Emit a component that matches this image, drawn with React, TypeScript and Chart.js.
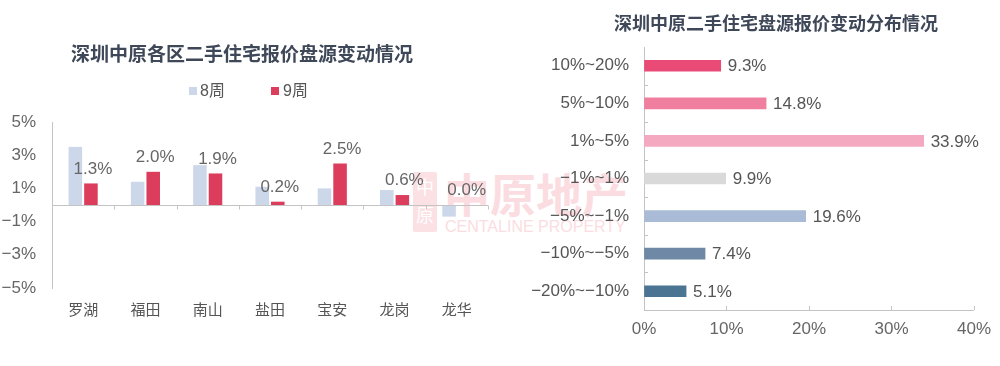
import React, { useEffect, useRef } from "react";
import { Chart, registerables } from "chart.js";

Chart.register(...registerables);

// ---- Data ----
const districts = ["罗湖", "福田", "南山", "盐田", "宝安", "龙岗", "龙华"];
const week8 = [3.5, 1.4, 2.4, 1.1, 1.0, 0.9, -0.7];
const week9 = [1.3, 2.0, 1.9, 0.2, 2.5, 0.6, 0.0];
const seriesNames = ["8周", "9周"];

const ranges = ["10%~20%", "5%~10%", "1%~5%", "−1%~1%", "−5%~−1%", "−10%~−5%", "−20%~−10%"];
const shares = [9.3, 14.8, 33.9, 9.9, 19.6, 7.4, 5.1];

const leftTitle = "深圳中原各区二手住宅报价盘源变动情况";
const rightTitle = "深圳中原二手住宅盘源报价变动分布情况";

// ---- Styles ----
const FONT = '"Liberation Sans", "Noto Sans CJK SC", sans-serif';
const CJK = '"Noto Sans CJK SC", "Liberation Sans", sans-serif';
const color8 = "#cdd7ea";
const color9 = "#dd3d5c";
const rangeColors = ["#e94b76", "#f07f9f", "#f5a9c0", "#d9d9d9", "#a9bbd6", "#6e88a6", "#4b7493"];
const axisColor = "#c4c4c4";

const fmtPct = (v: number) => (v < 0 ? "−" + Math.abs(v) : String(v)) + "%";

const leftPlugin = {
  id: "leftDecor",
  afterDatasetsDraw(chart: any) {
    const { ctx, chartArea, scales } = chart;
    const y0 = Math.round(scales.y.getPixelForValue(0)) + 0.5;
    ctx.save();
    ctx.strokeStyle = axisColor;
    ctx.lineWidth = 1;
    ctx.beginPath();
    ctx.moveTo(chartArea.left, y0);
    ctx.lineTo(chartArea.right, y0);
    const n = chart.data.labels.length;
    const w = (chartArea.right - chartArea.left) / n;
    for (let i = 1; i <= n; i++) {
      const x = Math.round(chartArea.left + i * w) + 0.5;
      ctx.moveTo(x, y0);
      ctx.lineTo(x, y0 + 4);
    }
    ctx.stroke();
    // value labels for 9周
    const meta = chart.getDatasetMeta(1);
    ctx.fillStyle = "#666";
    ctx.font = "17px " + FONT;
    ctx.textAlign = "center";
    ctx.textBaseline = "bottom";
    meta.data.forEach((bar: any, i: number) => {
      const v = chart.data.datasets[1].data[i];
      const top = Math.min(bar.y, bar.base);
      ctx.fillText(v.toFixed(1) + "%", bar.x + 2, top - 6);
    });
    ctx.restore();
  },
};

const rightPlugin = {
  id: "rightDecor",
  afterDatasetsDraw(chart: any) {
    const { ctx, chartArea, scales } = chart;
    ctx.save();
    ctx.strokeStyle = axisColor;
    ctx.lineWidth = 1;
    ctx.beginPath();
    const n = chart.data.labels.length;
    const h = (chartArea.bottom - chartArea.top) / n;
    for (let i = 1; i < n; i++) {
      const y = Math.round(chartArea.top + i * h) + 0.5;
      ctx.moveTo(chartArea.left, y);
      ctx.lineTo(chartArea.left + 4, y);
    }
    scales.x.ticks.forEach((t: any) => {
      if (t.value === 0) return;
      const x = Math.round(scales.x.getPixelForValue(t.value)) + 0.5;
      ctx.moveTo(x, chartArea.bottom);
      ctx.lineTo(x, chartArea.bottom - 4);
    });
    ctx.stroke();
    const meta = chart.getDatasetMeta(0);
    ctx.fillStyle = "#555";
    ctx.font = "17px " + FONT;
    ctx.textAlign = "left";
    ctx.textBaseline = "middle";
    meta.data.forEach((bar: any, i: number) => {
      const v = chart.data.datasets[0].data[i];
      ctx.fillText(v.toFixed(1) + "%", bar.x + 7, bar.y + 1);
    });
    ctx.restore();
  },
};

export default function App() {
  const leftRef = useRef<HTMLCanvasElement>(null);
  const rightRef = useRef<HTMLCanvasElement>(null);

  useEffect(() => {
    const left = new Chart(leftRef.current as HTMLCanvasElement, {
      type: "bar",
      data: {
        labels: districts,
        datasets: [
          { label: seriesNames[0], data: week8, backgroundColor: color8, categoryPercentage: 0.5, barPercentage: 0.87 },
          { label: seriesNames[1], data: week9, backgroundColor: color9, categoryPercentage: 0.5, barPercentage: 0.87 },
        ],
      },
      options: {
        responsive: false,
        animation: false,
        layout: { padding: { top: 122, right: 12, left: 0, bottom: 0 } },
        plugins: { legend: { display: false }, title: { display: false }, tooltip: { enabled: false } },
        scales: {
          x: {
            grid: { display: false, drawTicks: false },
            border: { display: false },
            ticks: { font: { size: 15, family: CJK }, color: "#555", padding: 12, maxRotation: 0 },
            afterFit: (s: any) => { s.height = 78; },
          },
          y: {
            min: -5,
            max: 5,
            grid: { display: true, drawOnChartArea: false, drawTicks: false },
            border: { display: true, color: axisColor },
            ticks: { stepSize: 2, font: { size: 17, family: FONT }, color: "#666", padding: 16, callback: (v: any) => fmtPct(v) },
            afterFit: (s: any) => { s.width = 52; },
          },
        },
      },
      plugins: [leftPlugin],
    });

    const right = new Chart(rightRef.current as HTMLCanvasElement, {
      type: "bar",
      data: {
        labels: ranges,
        datasets: [{ label: "占比", data: shares, backgroundColor: rangeColors, barThickness: 11 }],
      },
      options: {
        indexAxis: "y",
        responsive: false,
        animation: false,
        layout: { padding: { top: 47, right: 24, left: 0, bottom: 0 } },
        plugins: { legend: { display: false }, title: { display: false }, tooltip: { enabled: false } },
        scales: {
          x: {
            min: 0,
            max: 40,
            grid: { display: true, drawOnChartArea: false, drawTicks: false },
            border: { display: true, color: axisColor },
            ticks: { stepSize: 10, font: { size: 17, family: FONT }, color: "#666", padding: 9, callback: (v: any) => v + "%" },
            afterFit: (s: any) => { s.height = 56; },
          },
          y: {
            grid: { display: true, drawOnChartArea: false, drawTicks: false },
            border: { display: true, color: axisColor },
            ticks: { font: { size: 17, family: FONT }, color: "#555", padding: 15 },
            afterFit: (s: any) => { s.width = 144; },
          },
        },
      },
      plugins: [rightPlugin],
    });

    return () => {
      left.destroy();
      right.destroy();
    };
  }, []);

  const abs = (x: number, y: number): React.CSSProperties => ({ position: "absolute", left: x, top: y });

  return (
    <div style={{ position: "absolute", left: 0, top: 0, width: 1000, height: 366, background: "#fff", overflow: "hidden" }}>
      {/* watermark */}
      <div style={{ ...abs(413, 172), width: 24, height: 60, background: "#fbe0e4", borderRadius: 2, color: "#fff", fontFamily: CJK, fontSize: 18, lineHeight: "28px", textAlign: "center" }}>
        中<br />原
      </div>
      <div style={{ ...abs(444, 164), fontFamily: CJK, fontWeight: 700, fontSize: 46, color: "#fbdde1", lineHeight: "56px", whiteSpace: "nowrap" }}>中原地产</div>
      <div style={{ ...abs(445, 218), fontFamily: FONT, fontSize: 16, color: "#fbdde1", lineHeight: "18px", whiteSpace: "nowrap" }}>CENTALINE PROPERTY</div>

      <canvas ref={leftRef} width={500} height={366} style={{ ...abs(0, 0), width: 500, height: 366 }} />
      <canvas ref={rightRef} width={500} height={366} style={{ ...abs(500, 0), width: 500, height: 366 }} />

      {/* titles */}
      <div style={{ position: "absolute", left: 42, top: 40, width: 400, textAlign: "center", fontFamily: CJK, fontWeight: 700, fontSize: 19, lineHeight: "26px", color: "#3f4858", whiteSpace: "nowrap" }}>{leftTitle}</div>
      <div style={{ position: "absolute", left: 576, top: 9, width: 400, textAlign: "center", fontFamily: CJK, fontWeight: 700, fontSize: 18, lineHeight: "26px", color: "#3f4858", whiteSpace: "nowrap" }}>{rightTitle}</div>

      {/* legend */}
      <div style={{ ...abs(189, 87), width: 8, height: 8, background: color8 }} />
      <div style={{ ...abs(200, 80), fontFamily: FONT, fontSize: 16, lineHeight: "22px", color: "#555", whiteSpace: "nowrap" }}>{seriesNames[0]}</div>
      <div style={{ ...abs(271, 87), width: 8, height: 8, background: color9 }} />
      <div style={{ ...abs(283, 80), fontFamily: FONT, fontSize: 16, lineHeight: "22px", color: "#555", whiteSpace: "nowrap" }}>{seriesNames[1]}</div>
    </div>
  );
}
